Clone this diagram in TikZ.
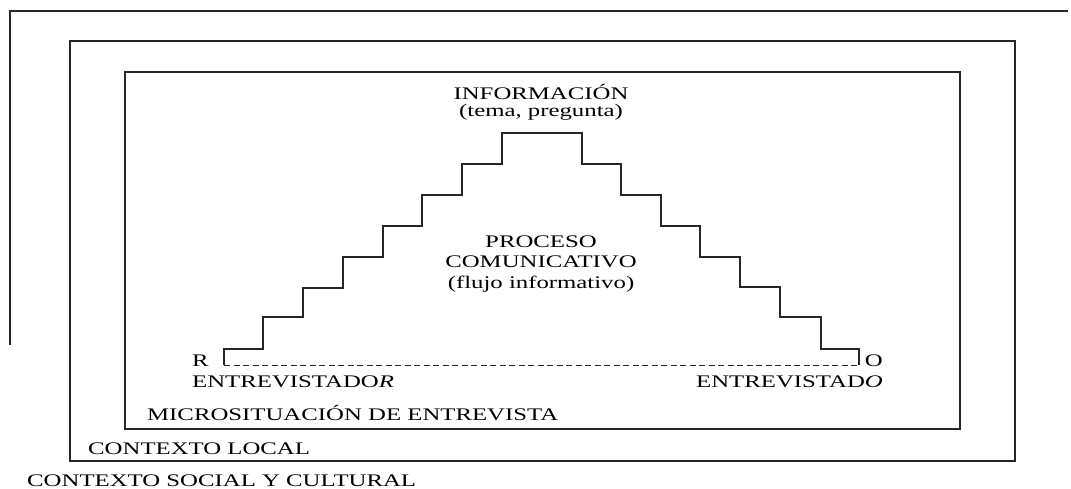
\documentclass[tikz,border=0pt]{standalone}
\usepackage{fontspec}
\setmainfont{Liberation Serif}[FakeStretch=1.4]
\begin{document}
\begin{tikzpicture}[x=1pt,y=-1pt,
  lbl/.style={inner sep=0pt,font=\fontsize{17.7}{20}\selectfont},
  boxline/.style={line width=1.3pt,black!85},
  stair/.style={line width=1.5pt,black!85,line join=miter},
  base/.style={line width=1pt,dash pattern=on 6pt off 3.5pt,black!85}]
\useasboundingbox (0,0) rectangle (1071,488);
% boxes
\draw[boxline] (10,345) -- (10,11) -- (1068,11);
\draw[boxline] (70,41) rectangle (1015,461);
\draw[boxline,line width=1.1pt] (125,72) rectangle (960,429);
% staircase
\coordinate (r) at (224,365);
\coordinate (o) at (859,365);
\draw[stair] (r) -- (224,349) -- (263,349) -- (263,317) -- (303,317) -- (303,288)
  -- (343,288) -- (343,257) -- (383,257) -- (383,226) -- (422,226) -- (422,195)
  -- (462,195) -- (462,164) -- (502,164) -- (502,133) -- (582,133) -- (582,164)
  -- (621,164) -- (621,195) -- (661,195) -- (661,226) -- (700,226) -- (700,257)
  -- (740,257) -- (740,287) -- (780,287) -- (780,317) -- (821,317) -- (821,349)
  -- (859,349) -- (o);
\draw[base] (r) -- (o);
% texts
\node[lbl,anchor=base] (info) at (541,99) {INFORMACIÓN};
\node[lbl,anchor=base] (tema) at (541,116) {(tema, pregunta)};
\node[lbl,anchor=base] (proc) at (541,247) {PROCESO};
\node[lbl,anchor=base] (comu) at (541,267) {COMUNICATIVO};
\node[lbl,anchor=base] (flujo) at (541,288) {(flujo informativo)};
\node[lbl,anchor=base west] (R) at (192,366) {R};
\node[lbl,anchor=base west] (entor) at (192,387) {ENTREVISTADO\textit{R}};
\node[lbl,anchor=base east] (O) at (883,366) {O};
\node[lbl,anchor=base east] (entdo) at (883,387) {ENTREVISTAD\textit{O}};
\node[lbl,anchor=base west] (micro) at (147,420) {MICROSITUACIÓN DE ENTREVISTA};
\node[lbl,anchor=base west] (local) at (88,454) {CONTEXTO LOCAL};
\node[lbl,anchor=base west] (social) at (27,486) {CONTEXTO SOCIAL Y CULTURAL};
\end{tikzpicture}
\end{document}
